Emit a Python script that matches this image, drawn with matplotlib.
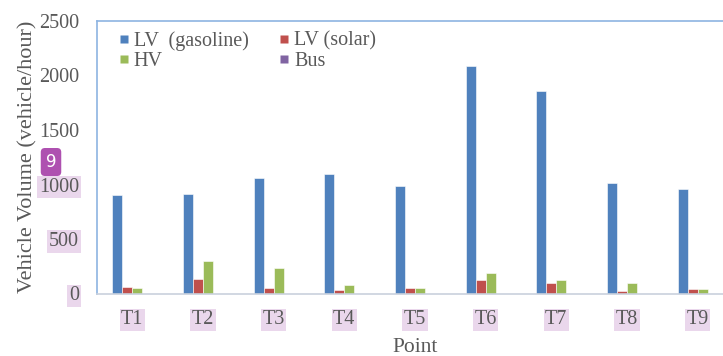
import numpy as np
from matplotlib import pyplot as plt
from matplotlib.lines import Line2D

points = ["T1", "T2", "T3", "T4", "T5", "T6", "T7", "T8", "T9"]
lv_gasoline = [906, 910, 1058, 1100, 988, 2086, 1862, 1018, 958]
lv_solar = [62, 137, 51, 30, 46, 122, 97, 24, 39]
hv = [46, 299, 238, 76, 46, 189, 128, 92, 39]
bus = [0, 0, 0, 0, 0, 0, 0, 0, 0]

series = [
    ("LV  (gasoline)", lv_gasoline, "#4F81BD"),
    ("LV (solar)", lv_solar, "#C0504D"),
    ("HV", hv, "#9BBB59"),
    ("Bus", bus, "#8064A2"),
]

TEXT = "#595959"
HIGHLIGHT = dict(boxstyle="square,pad=0.08", fc="#EAD7EC", ec="none")

plt.rcParams["font.family"] = ["Liberation Serif", "DejaVu Serif"]
plt.rcParams["font.size"] = 14.5

fig = plt.figure(figsize=(7.23, 3.56), dpi=100)
axis = fig.add_axes([97 / 723, 1 - 293.5 / 356, 636 / 723, 272.5 / 356])

ticks = np.arange(len(points))
width = 0.142
handles = {}
for i, (label, values, color) in enumerate(series):
    offset = (i - 1.5) * width
    axis.bar(
        ticks + offset, values, width, color=color,
        edgecolor="#FFFFFF", linewidth=0.4,
    )
    # square swatch for the legend
    handles[label] = Line2D([], [], linestyle="none", marker="s",
                            markersize=5.2, markerfacecolor=color,
                            markeredgecolor="none")

axis.set_xlim(-0.5, len(points) - 0.5)
axis.set_ylim(0, 2500)
axis.set_yticks(range(0, 2501, 500))
axis.set_xticks(ticks)
axis.set_xticklabels(points)

for side in ("left", "top"):
    axis.spines[side].set_color("#8DB4E2")
    axis.spines[side].set_linewidth(1.2)
axis.spines["bottom"].set_color("#C9D1DD")
axis.spines["bottom"].set_linewidth(1.2)
axis.spines["right"].set_visible(False)

axis.tick_params(axis="both", length=0, colors=TEXT, labelsize=14.5)
axis.tick_params(axis="y", pad=13)
axis.tick_params(axis="x", pad=12)
# only the lower y labels and the category labels carry the highlight
for lbl in axis.get_yticklabels():
    if lbl.get_text() in ("0", "500", "1000"):
        lbl.set_bbox(HIGHLIGHT)
for lbl in axis.get_xticklabels():
    lbl.set_bbox(HIGHLIGHT)

axis.set_ylabel("Vehicle Volume (vehicle/hour)", color=TEXT, fontsize=16, labelpad=1)
axis.set_xlabel("Point", color=TEXT, fontsize=15.5, labelpad=6)

order = ["LV  (gasoline)", "HV", "LV (solar)", "Bus"]
axis.legend(
    [handles[k] for k in order], order,
    ncol=2, loc="upper left", bbox_to_anchor=(0.02, 1.0),
    frameon=False, handlelength=0.4, handletextpad=0.3,
    columnspacing=1.55, labelspacing=0.05, borderaxespad=0.1,
    labelcolor=TEXT, fontsize=14.5,
)

# numbered marker beside the 1000 tick
fig.text(51 / 723, 1 - 162 / 356, "9", color="white", fontsize=12,
         family="DejaVu Sans", ha="center", va="center",
         bbox=dict(boxstyle="round,pad=0.3,rounding_size=0.25", fc="#AE50B0", ec="none"))

fig.savefig("out.png", dpi=100)
